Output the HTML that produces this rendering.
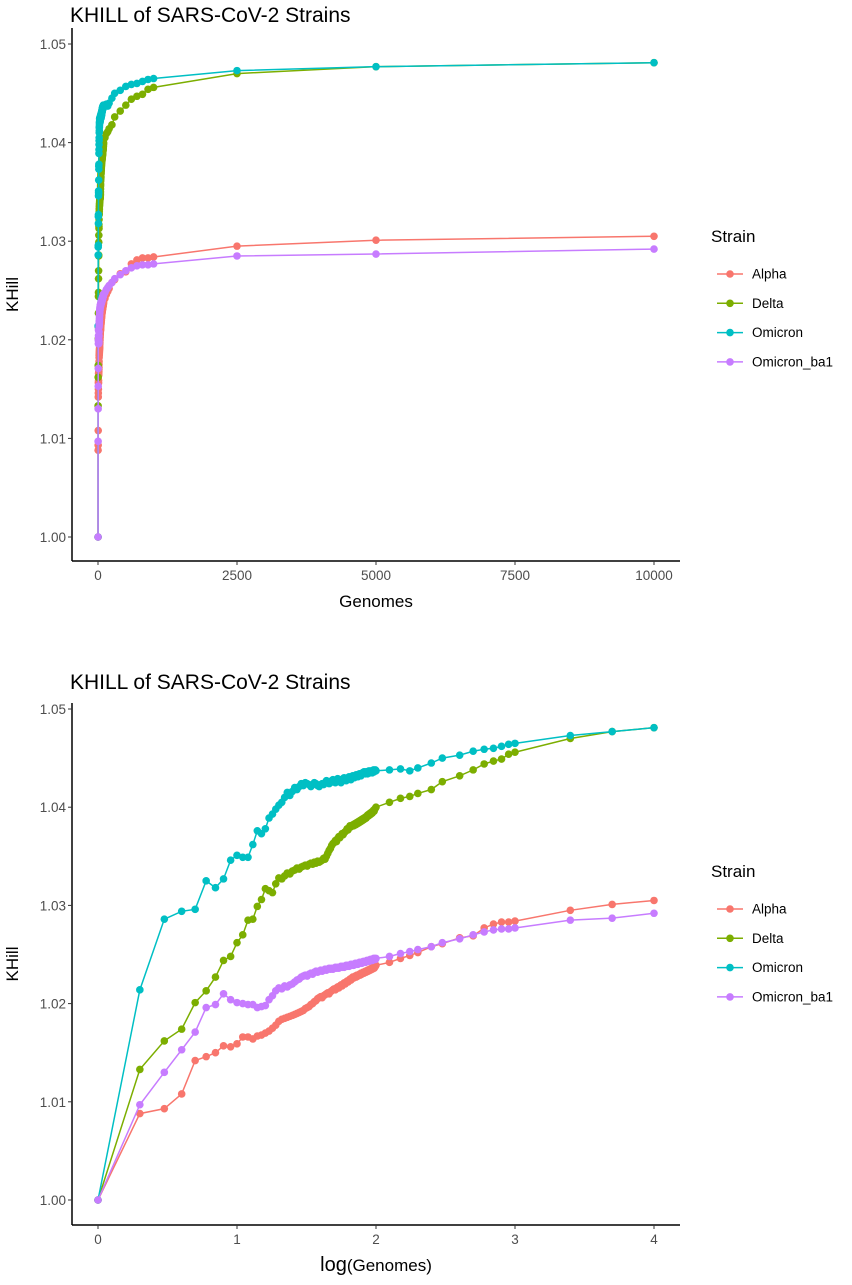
<!DOCTYPE html>
<html><head><meta charset="utf-8"><style>
body{margin:0;background:#fff;}
svg text{font-family:"Liberation Sans",sans-serif;}
</style></head>
<body>
<svg id="chart" width="852" height="1280" viewBox="0 0 852 1280" xmlns="http://www.w3.org/2000/svg"></svg>
<script>
const genomes=[1,2,3,4,5,6,7,8,9,10,11,12,13,14,15,16,17,18,19,20,21,22,23,24,25,26,27,28,29,30,31,32,33,34,35,36,37,38,39,40,41,42,43,44,45,46,47,48,49,50,51,52,53,54,55,56,57,58,59,60,61,62,63,64,65,66,67,68,69,70,71,72,73,74,75,76,77,78,79,80,81,82,83,84,85,86,87,88,89,90,91,92,93,94,95,96,97,98,99,100,125,150,175,200,250,300,400,500,600,700,800,900,1000,2500,5000,10000];
const alpha=[1.0000,1.0088,1.0093,1.0108,1.0142,1.0146,1.0150,1.0157,1.0156,1.0159,
1.0166,1.0166,1.0164,1.0167,1.0168,1.0170,1.0172,1.0175,1.0178,1.0182,
1.0184,1.0185,1.0186,1.0187,1.0188,1.0189,1.0190,1.0191,1.0192,1.0193,
1.0195,1.0196,1.0197,1.0199,1.0200,1.0202,1.0203,1.0205,1.0206,1.0207,
1.0206,1.0208,1.0209,1.0210,1.0211,1.0210,1.0212,1.0213,1.0214,1.0215,
1.0214,1.0216,1.0217,1.0216,1.0218,1.0219,1.0218,1.0220,1.0221,1.0220,
1.0222,1.0223,1.0222,1.0224,1.0225,1.0224,1.0226,1.0227,1.0226,1.0227,
1.0228,1.0227,1.0229,1.0228,1.0229,1.0230,1.0229,1.0231,1.0230,1.0231,
1.0232,1.0231,1.0232,1.0233,1.0232,1.0233,1.0234,1.0233,1.0234,1.0235,
1.0234,1.0235,1.0236,1.0235,1.0236,1.0237,1.0236,1.0237,1.0238,1.0239,
1.0242,1.0246,1.0249,1.0252,1.0258,1.0261,1.0267,1.0269,1.0277,1.0281,1.0283,1.0283,1.0284,1.0295,1.0301,1.0305];
const delta=[1.0000,1.0133,1.0162,1.0174,1.0201,1.0213,1.0227,1.0244,1.0248,1.0262,
1.0270,1.0285,1.0286,1.0299,1.0306,1.0317,1.0315,1.0313,1.0322,1.0328,
1.0327,1.0330,1.0333,1.0332,1.0335,1.0336,1.0338,1.0337,1.0339,1.0340,
1.0341,1.0340,1.0342,1.0343,1.0342,1.0344,1.0343,1.0345,1.0344,1.0345,
1.0346,1.0348,1.0347,1.0350,1.0353,1.0356,1.0358,1.0361,1.0363,1.0364,
1.0366,1.0365,1.0368,1.0370,1.0369,1.0371,1.0373,1.0372,1.0374,1.0375,
1.0376,1.0378,1.0377,1.0379,1.0381,1.0380,1.0381,1.0382,1.0381,1.0383,
1.0382,1.0384,1.0383,1.0385,1.0384,1.0386,1.0385,1.0387,1.0386,1.0388,
1.0387,1.0389,1.0388,1.0390,1.0389,1.0391,1.0392,1.0391,1.0393,1.0392,
1.0394,1.0393,1.0395,1.0394,1.0396,1.0397,1.0396,1.0398,1.0399,1.0400,
1.0405,1.0409,1.0411,1.0414,1.0418,1.0426,1.0432,1.0438,1.0444,1.0447,1.0449,1.0454,1.0456,1.0470,1.0477,1.0481];
const omicron=[1.0000,1.0214,1.0286,1.0294,1.0296,1.0325,1.0318,1.0327,1.0346,1.0351,
1.0349,1.0349,1.0362,1.0376,1.0373,1.0378,1.0389,1.0393,1.0398,1.0402,
1.0405,1.0410,1.0415,1.0412,1.0416,1.0420,1.0418,1.0421,1.0424,1.0422,
1.0425,1.0424,1.0423,1.0421,1.0423,1.0425,1.0424,1.0422,1.0421,1.0423,
1.0424,1.0423,1.0425,1.0427,1.0426,1.0424,1.0425,1.0427,1.0428,1.0426,
1.0425,1.0427,1.0429,1.0428,1.0426,1.0425,1.0427,1.0429,1.0430,1.0428,
1.0427,1.0428,1.0430,1.0431,1.0429,1.0428,1.0430,1.0432,1.0431,1.0430,
1.0431,1.0433,1.0432,1.0431,1.0433,1.0434,1.0433,1.0432,1.0434,1.0435,
1.0434,1.0436,1.0435,1.0434,1.0436,1.0435,1.0434,1.0436,1.0437,1.0436,
1.0435,1.0437,1.0436,1.0435,1.0437,1.0438,1.0436,1.0437,1.0438,1.0437,
1.0438,1.0439,1.0437,1.0440,1.0445,1.0450,1.0453,1.0457,1.0459,1.0460,1.0462,1.0464,1.0465,1.0473,1.0477,1.0481];
const omicronBa1=[1.0000,1.0097,1.0130,1.0153,1.0171,1.0196,1.0199,1.0210,1.0204,1.0201,
1.0200,1.0199,1.0199,1.0196,1.0197,1.0198,1.0204,1.0208,1.0213,1.0216,
1.0215,1.0218,1.0217,1.0219,1.0220,1.0222,1.0224,1.0225,1.0227,1.0228,
1.0229,1.0228,1.0230,1.0231,1.0230,1.0232,1.0233,1.0232,1.0233,1.0234,
1.0233,1.0234,1.0235,1.0234,1.0235,1.0236,1.0235,1.0236,1.0235,1.0236,
1.0237,1.0236,1.0237,1.0236,1.0237,1.0238,1.0237,1.0238,1.0237,1.0238,
1.0239,1.0238,1.0239,1.0238,1.0239,1.0240,1.0239,1.0240,1.0239,1.0240,
1.0241,1.0240,1.0241,1.0240,1.0241,1.0242,1.0241,1.0242,1.0241,1.0242,
1.0243,1.0242,1.0243,1.0242,1.0243,1.0244,1.0243,1.0244,1.0243,1.0244,
1.0245,1.0244,1.0245,1.0244,1.0245,1.0246,1.0245,1.0246,1.0245,1.0246,
1.0248,1.0251,1.0253,1.0255,1.0258,1.0262,1.0266,1.0270,1.0273,1.0275,1.0276,1.0276,1.0277,1.0285,1.0287,1.0292];
const seriesNames=["Alpha","Delta","Omicron","Omicron_ba1"];
const seriesColors=["#F8766D","#7CAE00","#00BFC4","#C77CFF"];
const yTicks=[1.00,1.01,1.02,1.03,1.04,1.05];
const xTicksTop=[0,2500,5000,7500,10000];
const xTicksBottom=[0,1,2,3,4];

const svg=document.getElementById('chart');
const NS='http://www.w3.org/2000/svg';
function mk(tag,attrs,parent,text){const e=document.createElementNS(NS,tag);for(const k in attrs)e.setAttribute(k,attrs[k]);if(text!==undefined)e.textContent=text;(parent||svg).appendChild(e);return e;}

function panel(cfg){
  const g=mk('g',{});
  
  
  const yS=v=>cfg.y0+(v-1.00)/0.05*(cfg.y5-cfg.y0);
  const xS=v=>cfg.xa+(v-cfg.xmin)/(cfg.xmax-cfg.xmin)*(cfg.xb-cfg.xa);
  const t=mk('text',{x:70,y:cfg.titleY,'font-size':21,fill:'#000'},g,'KHILL of SARS-CoV-2 Strains');
  
  
  const ya=mk('line',{x1:cfg.axX,y1:cfg.top,x2:cfg.axX,y2:cfg.axY,stroke:'#000','stroke-width':1.5},g);
  
  
  const xa=mk('line',{x1:cfg.axX,y1:cfg.axY,x2:cfg.right,y2:cfg.axY,stroke:'#000','stroke-width':1.5},g);
  
  
  yTicks.forEach(v=>{
    const y=yS(v);
    mk('line',{x1:cfg.axX-4,y1:y,x2:cfg.axX,y2:y,stroke:'#333','stroke-width':1},g);
    const l=mk('text',{x:cfg.axX-6,y:y+5,'font-size':13.5,fill:'#4d4d4d','text-anchor':'end'},g,v.toFixed(2));
    
    
  });
  cfg.xTicks.forEach(v=>{
    const x=xS(v);
    mk('line',{x1:x,y1:cfg.axY,x2:x,y2:cfg.axY+4,stroke:'#333','stroke-width':1},g);
    const l=mk('text',{x:x,y:cfg.axY+19,'font-size':13.5,fill:'#4d4d4d','text-anchor':'middle'},g,String(v));
    
    
  });
  const yl=mk('text',{x:0,y:0,'font-size':17,fill:'#000','text-anchor':'middle',transform:`translate(18,${(cfg.top+cfg.axY)/2}) rotate(-90)`},g,'KHill');
  
  
  const xl=mk('text',{x:(cfg.axX+cfg.right)/2,y:cfg.axY+46,'font-size':17,fill:'#000','text-anchor':'middle'},g);
  
  
  if(cfg.log){mk('tspan',{'font-size':20},xl,'log');mk('tspan',{'font-size':17},xl,'(Genomes)');}
  else xl.textContent='Genomes';
  const all=[alpha,delta,omicron,omicronBa1];
  all.forEach((vals,si)=>{
    const sg=mk('g',{},g);
    
    
    const pts=vals.map((v,i)=>[xS(cfg.log?Math.log10(genomes[i]):genomes[i]),yS(v)]);
    const p=mk('polyline',{points:pts.map(q=>q[0].toFixed(2)+','+q[1].toFixed(2)).join(' '),fill:'none',stroke:seriesColors[si],'stroke-width':1.5},sg);
    
    
    pts.forEach(q=>{
      const c=mk('circle',{cx:q[0],cy:q[1],r:3.8,fill:seriesColors[si]},sg);
      
      
    });
  });
  const lg=mk('g',{},g);
  
  
  mk('text',{x:711,y:cfg.legY,'font-size':17,fill:'#000'},lg,'Strain');
  seriesNames.forEach((n,i)=>{
    const y=cfg.legY+32+i*29.3;
    const e=mk('g',{},lg);
    
    
    mk('line',{x1:717,y1:y,x2:743,y2:y,stroke:seriesColors[i],'stroke-width':1.5},e);
    mk('circle',{cx:730,cy:y,r:3.8,fill:seriesColors[i]},e);
    mk('text',{x:752,y:y+4.5,'font-size':13.5,fill:'#000'},e,n);
  });
}
panel({name:'linear-panel',titleY:22,top:28,axX:72,axY:561,right:680,y0:537,y5:44,xa:98,xb:654,xmin:0,xmax:10000,xTicks:xTicksTop,log:false,legY:242});
panel({name:'log-panel',titleY:689,top:703,axX:72,axY:1225,right:680,y0:1200,y5:709,xa:98,xb:654,xmin:0,xmax:4,xTicks:xTicksBottom,log:true,legY:877});
</script>
</body></html>
